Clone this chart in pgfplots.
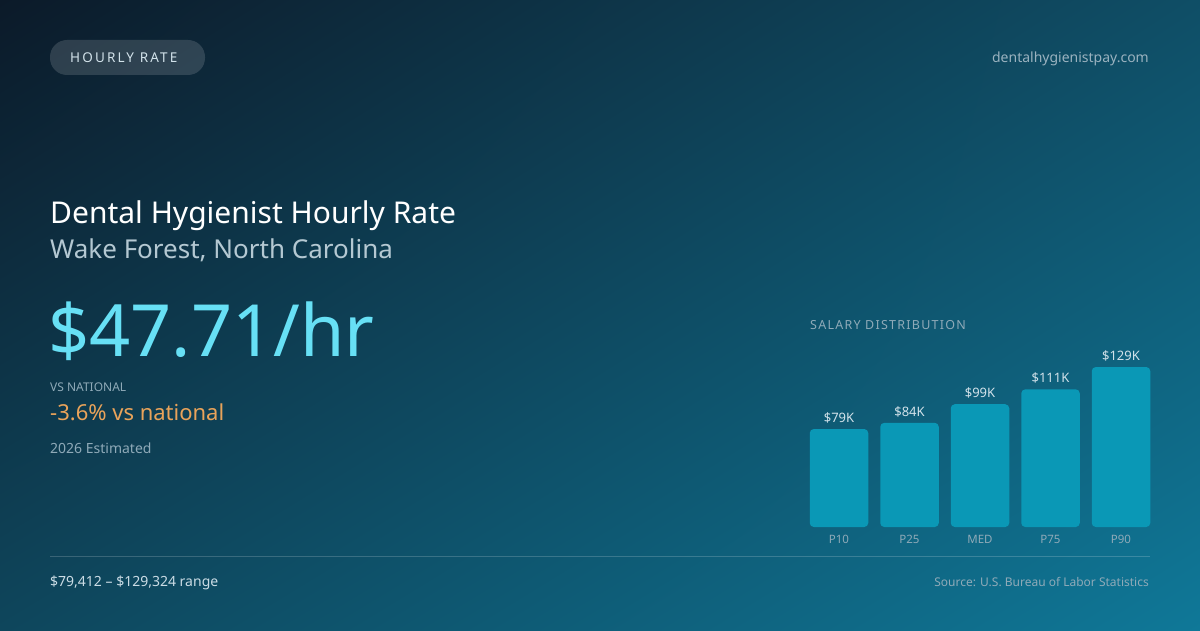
\documentclass[border=0pt]{standalone}
\usepackage{fontspec}
\setmainfont{Noto Sans}
\usepackage{pgfplots}
\pgfplotsset{compat=1.18}
\usetikzlibrary{shadings}
\definecolor{bgTL}{HTML}{0C1A29}
\definecolor{bgTR}{HTML}{0F4E66}
\definecolor{bgBL}{HTML}{0E465C}
\definecolor{bgBR}{HTML}{0F7898}
\definecolor{barc}{HTML}{0A98B6}
\definecolor{cyanbig}{HTML}{67E0F5}
\definecolor{orangec}{HTML}{E9A35A}
\definecolor{subc}{HTML}{B4C8D2}
\definecolor{mutec}{HTML}{8FAAB8}
\definecolor{lightc}{HTML}{D2E2EA}
\begin{document}
\begin{tikzpicture}[x=1pt,y=1pt]
\useasboundingbox (0,0) rectangle (1200,630);
\shade[upper left=bgTL, upper right=bgTR, lower left=bgBL, lower right=bgBR] (0,0) rectangle (1200,630);
% pill
\fill[white, fill opacity=0.14, rounded corners=17pt] (50,555) rectangle (205,590);
\node[anchor=base west, inner sep=0, text=lightc, font=\fontsize{13.5}{15}\selectfont\addfontfeatures{LetterSpace=16}] at (70,567) {HOURLY RATE};
\node[anchor=base east, inner sep=0, text=mutec!90!white, font=\fontsize{14}{16}\selectfont] at (1149,567) {dentalhygienistpay.com};
% titles
\node[anchor=base west, inner sep=0, text=white, font=\fontsize{30}{34}\selectfont] at (50,406) {Dental Hygienist Hourly Rate};
\node[anchor=base west, inner sep=0, text=subc, font=\fontsize{26}{30}\selectfont] at (50,371) {Wake Forest, North Carolina};
\node[anchor=base west, inner sep=0, text=cyanbig, font=\fontsize{72}{78}\selectfont] at (48,273) {\$47.71/hr};
\node[anchor=base west, inner sep=0, text=mutec, font=\fontsize{12}{14}\selectfont] at (50,238) {VS NATIONAL};
\node[anchor=base west, inner sep=0, text=orangec, font=\fontsize{22}{26}\selectfont] at (50,209) {-3.6\% vs national};
\node[anchor=base west, inner sep=0, text=mutec, font=\fontsize{14}{16}\selectfont] at (50,176) {2026 Estimated};
% footer
\draw[white, opacity=0.18, line width=1pt] (50,74) -- (1150,74);
\node[anchor=base west, inner sep=0, text=lightc!90!mutec, font=\fontsize{14}{16}\selectfont] at (50,44) {\$79,412 – \$129,324 range};
\node[anchor=base east, inner sep=0, text=mutec, font=\fontsize{12}{14}\selectfont] at (1149,44) {Source: U.S. Bureau of Labor Statistics};
% chart header
\node[anchor=base west, inner sep=0, text=mutec, font=\fontsize{12.5}{14}\selectfont\addfontfeatures{LetterSpace=10}] at (810,300) {SALARY DISTRIBUTION};
\begin{axis}[
  anchor=south west, at={(803.75pt,103pt)},
  x=70.5pt, y=1.24pt,
  xmin=-0.5, xmax=4.5, ymin=0, ymax=140,
  scale only axis,
  axis line style={draw=none},
  major tick length=0pt,
  ytick=\empty,
  xtick=data,
  xticklabels={P10,P25,MED,P75,P90},
  xticklabel style={text=mutec, font=\fontsize{11.5}{13}\selectfont, yshift=-5pt},
  /pgf/number format/assume math mode=true,
  clip=false,
  ybar, bar width=58.5pt, bar shift=0pt,
  nodes near coords={\$\pgfmathprintnumber{\pgfplotspointmeta}K},
  every node near coord/.append style={text=lightc, font=\fontsize{13}{15}\selectfont, yshift=2.5pt},
]
\addplot[fill=barc, draw=none, rounded corners=4pt] coordinates {(0,79) (1,84) (2,99) (3,111) (4,129)};
\end{axis}
\end{tikzpicture}
\end{document}
